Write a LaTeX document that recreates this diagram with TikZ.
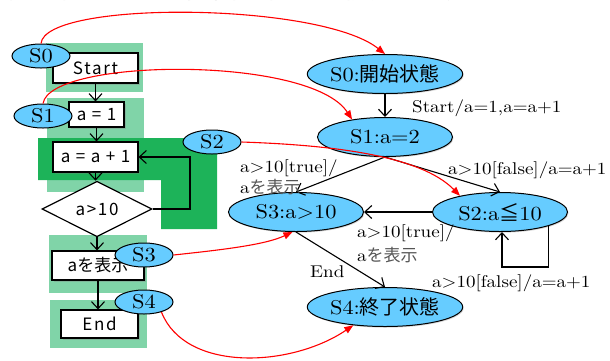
\documentclass[tikz,border=0pt]{standalone}
\usepackage{fontspec}
\newfontfamily\jp{Noto Sans CJK JP}
\newfontfamily\jpw[LetterSpace=10]{Noto Sans CJK JP}
\newfontfamily\wserif{lmroman10-regular.otf}[FakeStretch=1.12]
\usetikzlibrary{arrows.meta,shapes.geometric,shadows,calc}
\definecolor{lgreen}{RGB}{128,212,168}
\definecolor{dgreen}{RGB}{29,179,89}
\definecolor{sblue}{RGB}{102,204,255}
\definecolor{jgray}{RGB}{85,85,85}
\begin{document}
\begin{tikzpicture}[x=1pt,y=1pt,
  lbox/.style={draw=black, line width=1.2pt, fill=white, inner sep=0pt,
    font=\jpw\fontsize{17}{19}\selectfont,
    drop shadow={shadow xshift=1.5pt, shadow yshift=-1.5pt, opacity=0.35}},
  sell/.style={ellipse, draw=black, line width=1pt, fill=sblue, inner sep=0pt,
    minimum width=58pt, minimum height=24pt, font=\wserif\fontsize{20}{22}\selectfont},
  bell/.style={ellipse, draw=black, line width=1pt, fill=sblue, inner sep=0pt,
    minimum width=135pt, minimum height=39pt, font=\wserif\fontsize{20}{22}\selectfont,
    drop shadow={shadow xshift=1pt, shadow yshift=-1.2pt, opacity=0.3}},
  blk/.style={draw=black, line width=1.1pt, -{Straight Barb[length=7pt,width=13pt]}},
  redc/.style={draw=red, line width=1.1pt, -{Triangle[length=9pt,width=7pt]}},
  lab/.style={anchor=west, inner sep=0pt, font=\wserif\fontsize{17}{19}\selectfont}]
\useasboundingbox (0,0) rectangle (610,-360);
% cut-off heading above the top edge
\node[anchor=base west, inner sep=0pt, text=jgray, font=\jp\fontsize{26}{26}\selectfont] (title) at (5,1.5) {化を状態として抽出し状態遷移表を生成できる};
% green backgrounds
\fill[lgreen] (46,-43) rectangle (143,-92);
\fill[lgreen] (47,-98) rectangle (144,-192);
\fill[dgreen] (38,-138) -- (217,-138) -- (217,-229) -- (161,-229) -- (161,-180) -- (38,-180) -- cycle;
\fill[lgreen] (49,-235) rectangle (147,-293);
\fill[lgreen] (50,-300) rectangle (147,-348);
% flowchart
\node[lbox, minimum width=85pt, minimum height=30pt] (start) at (95.5,-68) {Start};
\node[lbox, minimum width=55pt, minimum height=25pt] (a1) at (96.5,-114.5) {a = 1};
\node[lbox, minimum width=85pt, minimum height=30pt] (inc) at (95.5,-157) {a = a + 1};
\node[diamond, draw=black, line width=1.2pt, fill=white, inner sep=0pt,
  minimum width=110pt, minimum height=42pt, font=\jpw\fontsize{17}{19}\selectfont] (dia) at (97,-209) {a>10};
\node[lbox, minimum width=92pt, minimum height=29pt, font=\jp\fontsize{17}{19}\selectfont] (disp) at (98,-265.5) {a{\jp を表示}};
\node[lbox, minimum width=77pt, minimum height=28pt] (fin) at (99.5,-324) {End};
\coordinate (lpc) at (190,-157);
\draw[blk] (start.south) -- (start.south |- a1.north);
\draw[blk] (a1.south) -- (a1.south |- inc.north);
\draw[blk] (inc.south) -- (inc.south |- dia.north);
\draw[blk] (dia.south) -- (dia.south |- disp.north);
\draw[blk] (disp.south) -- (disp.south |- fin.north);
\draw[blk] (dia.east) -| (lpc) -- (inc.east);
% left state markers
\node[sell] (l0) at (41,-56) {S0};
\node[sell] (l1) at (43,-116) {S1};
\node[sell] (l2) at (212,-142) {S2};
\node[sell] (l3) at (144,-255) {S3};
\node[sell] (l4) at (144,-302) {S4};
% state machine
\node[bell] (r0) at (385,-74) {S0:{\jp 開始状態}};
\node[bell] (r1) at (385,-137) {S1:a=2};
\node[bell] (r3) at (296,-212) {S3:a>10};
\node[bell] (r2) at (500,-212) {S2:a{\jp ≦}10};
\node[bell] (r4) at (385,-307) {S4:{\jp 終了状態}};
\coordinate (slp) at (502,-267);
\draw[blk] (r0.south) -- (r1.north);
\draw[blk] (r1.south) -- (r3.north);
\draw[blk] (r1.south) -- (r2.north);
\draw[blk] (r2.west) -- (r3.east);
\draw[blk] (r3.south) -- (r4.north);
\draw[blk] (r2.-16) |- (slp) -- (slp |- r2.south);
% transition labels
\node[lab] (t1) at (412,-108) {Start/a=1,a=a+1};
\node[lab] (t2a) at (240,-168) {a>10[true]/};
\node[lab] (t2b) at (240,-187) {a{\jp\color{jgray}を表示}};
\node[lab] (t3) at (448,-170) {a>10[false]/a=a+1};
\node[lab] (t4a) at (357,-233) {a>10[true]/};
\node[lab] (t4b) at (357,-255) {a{\jp\color{jgray}を表示}};
\node[lab] (t5) at (432,-283) {a>10[false]/a=a+1};
\node[lab] (t6) at (310,-272) {End};
% red correspondences
\draw[redc] (l0.north) .. controls (45,0) and (320,-2) .. (r0.north);
\draw[redc] (l1.north) .. controls (50,-58) and (310,-55) .. (r1.152);
\draw[redc] (l2.east) .. controls (330,-145) and (420,-155) .. (r2.158);
\draw[redc] (l3.east) .. controls (220,-250) and (265,-245) .. (r3.-100);
\draw[redc] (l4.-30) .. controls (185,-372) and (290,-368) .. (r4.-150);
\end{tikzpicture}
\end{document}
